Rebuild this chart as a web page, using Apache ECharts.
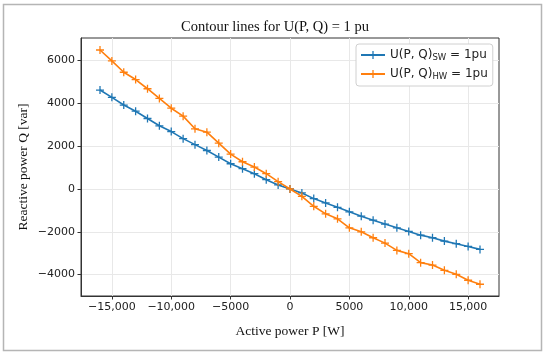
<!DOCTYPE html>
<html>
<head>
<meta charset="utf-8">
<script src="https://cdn.jsdelivr.net/npm/echarts@6/dist/echarts.min.js"></script>
<style>html,body{margin:0;padding:0;background:#fff;}#c{width:550px;height:359px;}</style>
</head>
<body>
<div id="c"></div>
<script>
// Active power P [W]
const pValues = [-16000,-15000,-14000,-13000,-12000,-11000,-10000,-9000,-8000,-7000,-6000,-5000,-4000,-3000,-2000,-1000,0,1000,2000,3000,4000,5000,6000,7000,8000,9000,10000,11000,12000,13000,14000,15000,16000];
// Reactive power Q [var], U(P,Q)_SW = 1pu
const qSW = [4620,4280,3920,3630,3290,2950,2680,2350,2070,1795,1488,1177,944,712,433,186,0,-186,-451,-651,-856,-1070,-1274,-1460,-1640,-1814,-1986,-2158,-2279,-2437,-2558,-2684,-2823];
// Reactive power Q [var], U(P,Q)_HW = 1pu
const qHW = [6490,5980,5450,5110,4680,4230,3770,3400,2810,2651,2140,1628,1270,1023,712,340,0,-344,-809,-1163,-1395,-1814,-2000,-2279,-2530,-2870,-3023,-3442,-3553,-3800,-3986,-4265,-4451];
const xTicks = [-15000,-10000,-5000,0,5000,10000,15000];
const yTicks = [-4000,-2000,0,2000,4000,6000];
const seriesNames = ['SW','HW'];
const titleText = 'Contour lines for U(P, Q) = 1 pu';
const xName = 'Active power P [W]';
const yName = 'Reactive power Q [var]';

const plus = 'path://M4.2,0H5.8V4.2H10V5.8H5.8V10H4.2V5.8H0V4.2H4.2Z';
function fmtX(v){const a=Math.abs(v);const s=a>=10000?a.toLocaleString('en-US'):String(a);return (v<0?'\u2212':'')+s;}
function fmtY(v){return (v<0?'\u2212':'')+String(Math.abs(v));}
const colors=['#1f77b4','#ff7f0e'];
const chart = echarts.init(document.getElementById('c'), null, {renderer:'canvas'});
chart.setOption({
  animation:false,
  backgroundColor:'#fff',
  graphic:[{type:'rect',shape:{x:3.5,y:4.5,width:538,height:346},style:{fill:'none',stroke:'#b5b5b5',lineWidth:1.5},silent:true}],
  title:{text:titleText,left:'center',top:15,textStyle:{fontFamily:'Liberation Serif',fontWeight:'normal',fontSize:14.5,color:'#111'}},
  grid:{left:81,right:51,top:38,bottom:63,show:true,borderColor:'#333',borderWidth:1,backgroundColor:'transparent'},
  legend:{
    left:356,top:44,orient:'vertical',itemWidth:24,itemHeight:10,itemGap:6,
    padding:[5,5,5,4],
    backgroundColor:'#fff',borderColor:'#d0d0d0',borderWidth:1,borderRadius:3,
    data:seriesNames,
    formatter:n=>'{a|U(P, Q)}{s|'+n+'}{a| = 1pu}',
    textStyle:{fontFamily:'DejaVu Sans',fontSize:12,color:'#222',rich:{a:{fontFamily:'DejaVu Sans',fontSize:12,color:'#222'},s:{fontFamily:'DejaVu Sans',fontSize:8.5,color:'#222',padding:[5,0,0,0]}}}
  },
  xAxis:{type:'value',min:-17600,max:17600,
    name:xName,nameLocation:'middle',nameGap:28,nameTextStyle:{fontFamily:'Liberation Serif',fontSize:13.5,color:'#111'},
    axisLine:{show:true,onZero:false,lineStyle:{color:'#333',width:1}},
    axisTick:{show:true,length:3.5,inside:false,customValues:xTicks,lineStyle:{color:'#333'}},
    axisLabel:{customValues:xTicks,formatter:fmtX,margin:6,fontFamily:'DejaVu Sans',fontSize:11,color:'#222'},
    splitLine:{show:true,lineStyle:{color:'#e8e8e8',width:1}}},
  yAxis:{type:'value',min:-5000,max:7050,
    name:yName,nameLocation:'middle',nameGap:51,nameMoveOverlap:false,nameRotate:90,nameTextStyle:{fontFamily:'Liberation Serif',fontSize:13.5,color:'#111'},
    axisLine:{show:true,onZero:false,lineStyle:{color:'#333',width:1}},
    axisTick:{show:true,length:3.5,inside:false,customValues:yTicks,lineStyle:{color:'#333'}},
    axisLabel:{customValues:yTicks,formatter:fmtY,margin:6,fontFamily:'DejaVu Sans',fontSize:11,color:'#222'},
    splitLine:{show:true,lineStyle:{color:'#e8e8e8',width:1}}},
  series:[
    {name:seriesNames[0],type:'line',data:pValues.map((p,i)=>[p,qSW[i]]),symbol:plus,symbolSize:8,showSymbol:true,
     lineStyle:{color:colors[0],width:1.6},itemStyle:{color:colors[0]},z:2},
    {name:seriesNames[1],type:'line',data:pValues.map((p,i)=>[p,qHW[i]]),symbol:plus,symbolSize:8,showSymbol:true,
     lineStyle:{color:colors[1],width:1.6},itemStyle:{color:colors[1]},z:3}
  ]
});
</script>
</body>
</html>
